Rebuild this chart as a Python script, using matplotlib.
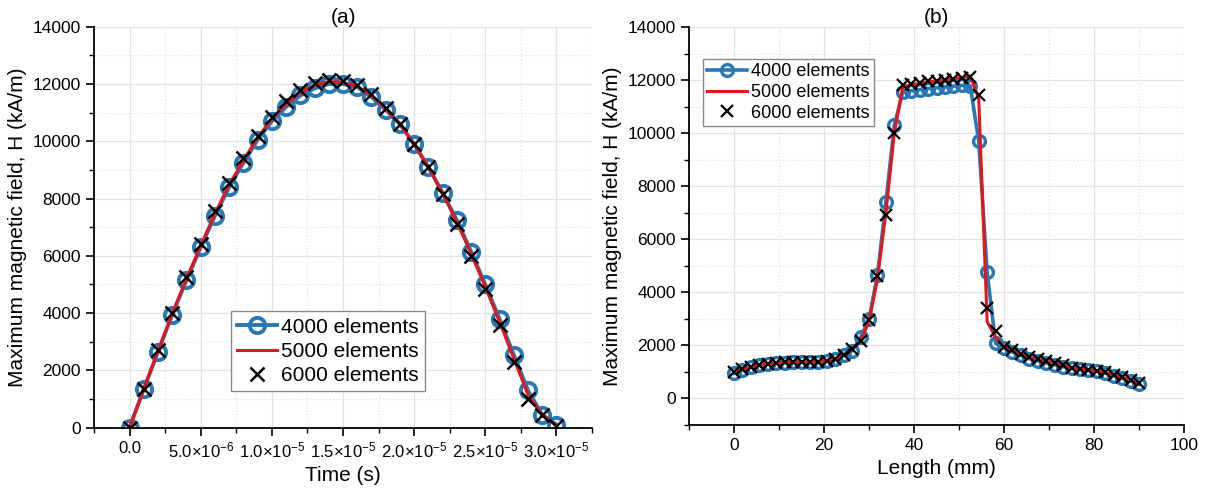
import numpy as np
import matplotlib
matplotlib.use('Agg')
import matplotlib.pyplot as plt
from matplotlib.ticker import MultipleLocator, FixedLocator, FixedFormatter

plt.rcParams['font.family'] = ['Liberation Sans', 'DejaVu Sans']
plt.rcParams['mathtext.fontset'] = 'custom'
plt.rcParams['mathtext.rm'] = 'Liberation Sans'
plt.rcParams['mathtext.it'] = 'Liberation Sans:italic'

# ---- panel (a): H vs time ----
time_us = [0, 1, 2, 3, 4, 5, 6, 7, 8, 9, 10, 11, 12, 13, 14, 15,
           16, 17, 18, 19, 20, 21, 22, 23, 24, 25, 26, 27, 28, 29, 30]
h4000_a = [0, 1350, 2650, 3950, 5150, 6300, 7400, 8400, 9250, 10050, 10700,
           11200, 11600, 11850, 12000, 12000, 11900, 11550, 11100, 10600, 9900,
           9100, 8200, 7250, 6150, 5000, 3800, 2550, 1300, 450, 100]
h5000_a = [0, 1350, 2680, 3980, 5200, 6350, 7480, 8480, 9330, 10130, 10780,
           11300, 11700, 11950, 12080, 12060, 11920, 11600, 11130, 10600, 9900,
           9100, 8180, 7180, 6080, 4920, 3700, 2420, 1150, 450, 80]
h6000_a = [0, 1350, 2700, 4000, 5250, 6400, 7550, 8550, 9400, 10200, 10850,
           11400, 11800, 12050, 12150, 12100, 11950, 11650, 11150, 10600, 9900,
           9100, 8150, 7100, 6000, 4850, 3600, 2300, 1000, 450, 50]
xtick_a = [0, 5e-6, 1e-5, 1.5e-5, 2e-5, 2.5e-5, 3e-5]
xlabels_a = ['0.0', r'$\mathregular{5.0{\times}10^{-6}}$',
             r'$\mathregular{1.0{\times}10^{-5}}$', r'$\mathregular{1.5{\times}10^{-5}}$',
             r'$\mathregular{2.0{\times}10^{-5}}$', r'$\mathregular{2.5{\times}10^{-5}}$',
             r'$\mathregular{3.0{\times}10^{-5}}$']

# ---- panel (b): H vs length ----
length_mm = [0, 1.875, 3.75, 5.625, 7.5, 9.375, 11.25, 13.125, 15, 16.875,
             18.75, 20.625, 22.5, 24.375, 26.25, 28.125, 30, 31.875, 33.75, 35.625,
             37.5, 39.375, 41.25, 43.125, 45, 46.875, 48.75, 50.625, 52.5, 54.375,
             56.25, 58.125, 60, 61.875, 63.75, 65.625, 67.5, 69.375, 71.25, 73.125,
             75, 76.875, 78.75, 80.625, 82.5, 84.375, 86.25, 88.125, 90]
h4000_b = [950, 1080, 1180, 1260, 1300, 1330, 1350, 1360, 1370, 1375,
           1380, 1400, 1480, 1650, 1800, 2300, 3000, 4650, 7400, 10300,
           11550, 11600, 11640, 11680, 11710, 11740, 11770, 11800, 11780, 9700,
           4750, 2080, 1900, 1750, 1620, 1500, 1420, 1340, 1270, 1200,
           1130, 1100, 1070, 1030, 950, 860, 760, 660, 540]
h5000_b = [1000, 1100, 1200, 1270, 1310, 1340, 1360, 1370, 1380, 1385,
           1390, 1420, 1500, 1620, 1850, 2150, 2900, 4500, 7000, 10000,
           11750, 11820, 11880, 11930, 11970, 12010, 12050, 12090, 12150, 11300,
           2900, 2300, 1950, 1820, 1680, 1560, 1470, 1400, 1330, 1250,
           1150, 1100, 1080, 1040, 980, 890, 800, 700, 570]
h6000_b = [1000, 1100, 1200, 1270, 1310, 1340, 1360, 1370, 1380, 1385,
           1390, 1420, 1500, 1620, 1850, 2150, 2950, 4600, 6900, 10000,
           11800, 11850, 11900, 11950, 11980, 12010, 12050, 12080, 12130, 11450,
           3400, 2550, 1950, 1820, 1680, 1560, 1470, 1400, 1330, 1250,
           1150, 1100, 1080, 1040, 980, 890, 800, 700, 570]

blue = '#2878b5'
red = '#e8141a'
ylab = 'Maximum magnetic field, H (kA/m)'

fig = plt.figure(figsize=(12.05, 4.95), dpi=100)
ax1 = fig.add_axes([0.078, 0.136, 0.4133, 0.810])
ax2 = fig.add_axes([0.5718, 0.1414, 0.4108, 0.8041])


def style(ax):
    for s in ['top', 'right']:
        ax.spines[s].set_visible(False)
    for s in ['left', 'bottom']:
        ax.spines[s].set_linewidth(1.3)
    ax.tick_params(which='major', direction='out', length=6, width=1.2, labelsize=12.5)
    ax.tick_params(which='minor', direction='out', length=3.5, width=1.0)
    ax.grid(which='major', color='#e2e2e2', lw=0.9, ls='-')
    ax.grid(which='minor', color='#e2e2e2', lw=0.9, ls=':')
    ax.set_axisbelow(True)


# (a)
t = np.array(time_us) * 1e-6
ax1.plot(t, h4000_a, '-o', color=blue, lw=2.8, ms=11, mfc='none', mew=2.8,
         label='4000 elements')
ax1.plot(t, h5000_a, '-', color=red, lw=2.2, label='5000 elements')
ax1.plot(t, h6000_a, 'x', color='black', ms=10, mew=1.8, ls='none',
         label='6000 elements')
ax1.set_xlim(-2.5e-6, 3.25e-5)
ax1.set_ylim(0, 14000)
ax1.xaxis.set_major_locator(FixedLocator(xtick_a))
ax1.xaxis.set_major_formatter(FixedFormatter(xlabels_a))
ax1.xaxis.set_minor_locator(MultipleLocator(2.5e-6))
ax1.yaxis.set_major_locator(MultipleLocator(2000))
ax1.yaxis.set_minor_locator(MultipleLocator(1000))
style(ax1)
ax1.tick_params(axis='x', which='major', labelsize=12)
ax1.set_xlabel('Time (s)', fontsize=15, labelpad=4)
ax1.set_ylabel(ylab, fontsize=15, labelpad=4)
ax1.set_title('(a)', fontsize=15, pad=3)
leg = ax1.legend(loc='upper left', bbox_to_anchor=(0.275, 0.29), fontsize=15,
                 frameon=True, fancybox=False, edgecolor='#888888', framealpha=1,
                 handlelength=1.9, handletextpad=0.2, borderpad=0.3,
                 labelspacing=0.25, borderaxespad=0)
leg.get_frame().set_linewidth(1.0)

# (b)
ax2.plot(length_mm, h4000_b, '-o', color=blue, lw=2.6, ms=8.5, mfc='none', mew=2.4,
         label='4000 elements')
ax2.plot(length_mm, h5000_b, '-', color=red, lw=2.2, label='5000 elements')
ax2.plot(length_mm, h6000_b, 'x', color='black', ms=9, mew=1.6, ls='none',
         label='6000 elements')
ax2.set_xlim(-10, 100)
ax2.set_ylim(-1000, 14000)
ax2.xaxis.set_major_locator(MultipleLocator(20))
ax2.xaxis.set_minor_locator(MultipleLocator(10))
ax2.yaxis.set_major_locator(FixedLocator([0, 2000, 4000, 6000, 8000, 10000, 12000, 14000]))
ax2.yaxis.set_minor_locator(MultipleLocator(1000))
style(ax2)
ax2.set_xlabel('Length (mm)', fontsize=15, labelpad=4)
ax2.set_ylabel(ylab, fontsize=15, labelpad=4)
ax2.set_title('(b)', fontsize=15, pad=3)
leg = ax2.legend(loc='upper left', bbox_to_anchor=(0.028, 0.92), fontsize=13,
                 frameon=True, fancybox=False, edgecolor='#888888', framealpha=1,
                 handlelength=2.2, handletextpad=0.2, borderpad=0.25,
                 labelspacing=0.2, borderaxespad=0)
leg.get_frame().set_linewidth(1.0)

fig.savefig('out.png', dpi=100)
